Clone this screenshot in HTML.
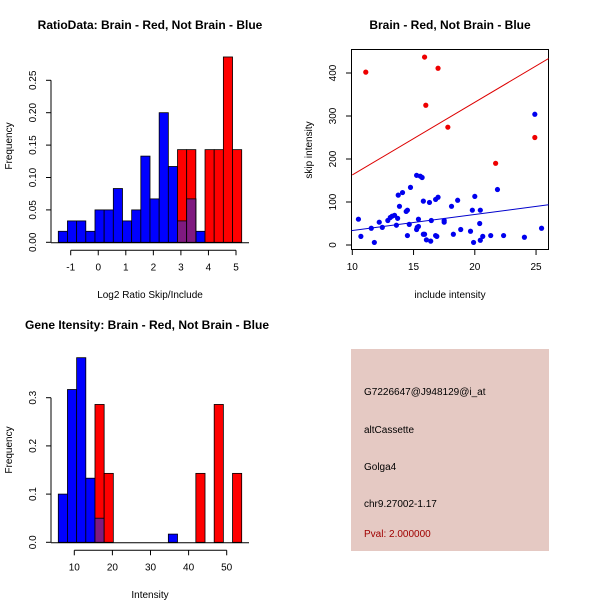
<!DOCTYPE html>
<html><head><meta charset="utf-8"><style>
body{margin:0;background:#fff}
svg{display:block;font-family:"Liberation Sans",Arial,sans-serif}
</style></head><body>
<svg id="s" width="600" height="600" viewBox="0 0 600 600">
<rect width="600" height="600" fill="#fff"/>
<text x="150" y="29" font-size="12" font-weight="bold" text-anchor="middle">RatioData: Brain - Red, Not Brain - Blue</text>
<text x="450" y="29" font-size="12" font-weight="bold" text-anchor="middle">Brain - Red, Not Brain - Blue</text>
<text x="147" y="329" font-size="12" font-weight="bold" text-anchor="middle">Gene Itensity: Brain - Red, Not Brain - Blue</text>
<text x="150" y="298" font-size="10" text-anchor="middle">Log2 Ratio Skip/Include</text>
<text x="12" y="146" font-size="10" text-anchor="middle" transform="rotate(-90 12 146)">Frequency</text>
<text x="450" y="298" font-size="10" text-anchor="middle">include intensity</text>
<text x="312" y="150" font-size="10" text-anchor="middle" transform="rotate(-90 312 150)">skip intensity</text>
<text x="150" y="598" font-size="10" text-anchor="middle">Intensity</text>
<text x="12" y="450" font-size="10" text-anchor="middle" transform="rotate(-90 12 450)">Frequency</text>
<rect x="351" y="349" width="198" height="202" fill="#e5c9c3"/>
<g font-size="10">
<text x="364" y="395">G7226647@J948129@i_at</text>
<text x="364" y="433">altCassette</text>
<text x="364" y="470">Golga4</text>
<text x="364" y="507">chr9.27002-1.17</text>
<text x="364" y="537" fill="#a00000">Pval: 2.000000</text>
</g>
<g id="g1"></g><g id="g2"></g><g id="g3"></g>
</svg>
<script>
// Panel 1 data
const ratioBlue=[0.017,0.033,0.033,0.017,0.05,0.05,0.083,0.033,0.05,0.133,0.067,0.2,0.117,0.033,0.067,0.017,0,0,0,0];
const ratioRed=[0,0,0,0,0,0,0,0,0,0,0,0,0,0.143,0.143,0,0.143,0.143,0.286,0.143];
const ratioXTicks=[-1,0,1,2,3,4,5];
const ratioYTicks=["0.00","0.05","0.10","0.15","0.20","0.25"];
// Panel 3 data
const geneBlue=[0.1,0.317,0.383,0.133,0.05,0,0,0,0,0,0,0,0.017,0,0,0,0,0,0,0];
const geneRed=[0,0,0,0,0.286,0.143,0,0,0,0,0,0,0,0,0,0.143,0,0.286,0,0.143];
const geneXTicks=[10,20,30,40,50];
const geneYTicks=["0.0","0.1","0.2","0.3"];
// Panel 2 data
const redX=[11.1,15.9,17.0,16.0,17.8,21.7,24.9];
const redY=[402,437,411,325,274,190,250];
const blueX=[10.5,10.7,11.55,11.8,12.2,12.45,12.9,13.1,13.25,13.45,13.6,13.7,13.75,13.85,14.1,14.4,14.5,14.5,14.65,14.75,15.25,15.25,15.3,15.4,15.4,15.55,15.7,15.8,15.8,15.9,16.05,16.3,16.4,16.45,16.8,16.8,16.9,17.0,17.5,17.5,18.1,18.25,18.6,18.85,19.65,19.8,19.9,20.0,20.4,20.45,20.45,20.65,21.3,21.85,22.35,24.05,24.9,25.45];
const blueY=[60,20,39,6,53,41,57,64,67,69,46,62,116,90,122,78,81,22,48,134,162,36,41,60,43,160,157,102,25,25,12,99,9,57,106,22,20,111,57,53,90,25,104,36,32,81,6,113,50,81,11,20,22,129,22,18,304,39];
const redLine=[[10,163],[26.4,440]];
const blueLine=[[9.8,33],[26.4,95]];
const scatterXTicks=[10,15,20,25];
const scatterYTicks=[0,100,200,300,400];

const NS="http://www.w3.org/2000/svg";
function mk(p,t,a){const e=document.createElementNS(NS,t);for(const k in a)e.setAttribute(k,a[k]);p.appendChild(e);return e;}

function hist(g,blue,red,xs,ys,xTicks,yTicks,yStep,namePre){
  const n=blue.length,x0=58.3,bw=(241.7-58.3)/n;
  for(let i=0;i<n;i++){
    const x=x0+i*bw;
    if(blue[i]>0){const r=mk(g,'rect',{x:x,y:ys(blue[i]),width:bw,height:ys(0)-ys(blue[i]),fill:'#0000ff',stroke:'#000','stroke-width':0.8});
      
      }
  }
  for(let i=0;i<n;i++){
    const x=x0+i*bw;
    if(red[i]>0){const r=mk(g,'rect',{x:x,y:ys(red[i]),width:bw,height:ys(0)-ys(red[i]),fill:'#ff0000',stroke:'#000','stroke-width':0.8});
      
      
      if(blue[i]>0){const m=Math.min(blue[i],red[i]);const o=mk(g,'rect',{x:x,y:ys(m),width:bw,height:ys(0)-ys(m),fill:'#7f1a80',stroke:'#000','stroke-width':0.8});
        
        }}
  }
  mk(g,'line',{x1:51,x2:249,y1:ys(0)+0.5,y2:ys(0)+0.5,stroke:'#000'});
  const ya=mk(g,'line',{x1:51,x2:51,y1:ys(0),y2:ys(parseFloat(yTicks[yTicks.length-1])),stroke:'#000'});
  
  yTicks.forEach(t=>{const v=parseFloat(t),y=ys(v);mk(g,'line',{x1:46,x2:51,y1:y,y2:y,stroke:'#000'});
    const tx=mk(g,'text',{x:36,y:y,'font-size':10,'text-anchor':'middle',transform:`rotate(-90 36 ${y})`});tx.textContent=t;
    });
  const ay=ys(0)+8;
  const xa=mk(g,'line',{x1:xs(xTicks[0]),x2:xs(xTicks[xTicks.length-1]),y1:ay,y2:ay,stroke:'#000'});
  
  xTicks.forEach(t=>{const x=xs(t);mk(g,'line',{x1:x,x2:x,y1:ay,y2:ay+5,stroke:'#000'});
    const tx=mk(g,'text',{x:x,y:ay+20,'font-size':10,'text-anchor':'middle'});tx.textContent=t;
    });
}
hist(document.getElementById('g1'),ratioBlue,ratioRed,v=>70.7+(v+1)*27.55,v=>242.3-v*648,ratioXTicks,ratioYTicks,0,'ratio');
hist(document.getElementById('g3'),geneBlue,geneRed,v=>74.3+(v-10)*3.81,v=>542.3-v*482,geneXTicks,geneYTicks,0,'gene');

// scatter
const g2=document.getElementById('g2');
const sx=v=>352.3+(v-10)*12.25, sy=v=>245-v*0.43;
const box=mk(g2,'rect',{x:351.5,y:49.5,width:197,height:200,fill:'none',stroke:'#000'});

const cp=mk(g2,'clipPath',{id:'cp'});mk(cp,'rect',{x:351.5,y:49.5,width:197,height:200});
const rl=mk(g2,'line',{x1:sx(redLine[0][0]),y1:sy(redLine[0][1]),x2:sx(redLine[1][0]),y2:sy(redLine[1][1]),stroke:'#dd0000','clip-path':'url(#cp)'});

const bl=mk(g2,'line',{x1:sx(blueLine[0][0]),y1:sy(blueLine[0][1]),x2:sx(blueLine[1][0]),y2:sy(blueLine[1][1]),stroke:'#0000cc','clip-path':'url(#cp)'});

blueX.forEach((x,i)=>{const c=mk(g2,'circle',{cx:sx(x),cy:sy(blueY[i]),r:2.6,fill:'#0000ee'});
  });
redX.forEach((x,i)=>{const c=mk(g2,'circle',{cx:sx(x),cy:sy(redY[i]),r:2.6,fill:'#ee0000'});
  });
scatterXTicks.forEach(t=>{const x=sx(t);mk(g2,'line',{x1:x,x2:x,y1:250,y2:255,stroke:'#000'});
  const tx=mk(g2,'text',{x:x,y:270,'font-size':10,'text-anchor':'middle'});tx.textContent=t;
  });
scatterYTicks.forEach(t=>{const y=sy(t);mk(g2,'line',{x1:346,x2:351,y1:y,y2:y,stroke:'#000'});
  const tx=mk(g2,'text',{x:336,y:y,'font-size':10,'text-anchor':'middle',transform:`rotate(-90 336 ${y})`});tx.textContent=t;
  });
</script>
</body></html>
